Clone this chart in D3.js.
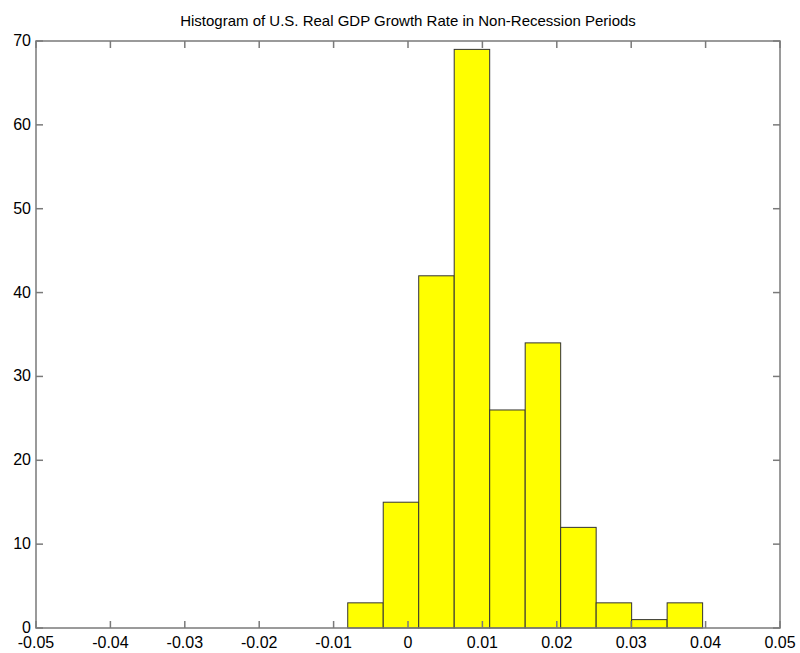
<!DOCTYPE html>
<html>
<head>
<meta charset="utf-8">
<script src="https://cdn.jsdelivr.net/npm/d3@7"></script>
<style>
  body { margin: 0; background: #fff; }
  text { font-family: Arial, "Liberation Sans", sans-serif; fill: #000; }
</style>
</head>
<body>
<div id="chart"></div>
<script>
const width = 800;
const height = 653;

// histogram data (bin edges from first edge + width, counts)
const binStart = -0.0081;
const binWidth = 0.00477;
const counts = [3, 15, 42, 69, 26, 34, 12, 3, 1, 3];
const xTicks = [-0.05, -0.04, -0.03, -0.02, -0.01, 0, 0.01, 0.02, 0.03, 0.04, 0.05];
const yTicks = [0, 10, 20, 30, 40, 50, 60, 70];
const title = "Histogram of U.S. Real GDP Growth Rate in Non-Recession Periods";

const margin = {top: 41, right: 20, bottom: 25, left: 36};
const x = d3.scaleLinear().domain([-0.05, 0.05]).range([margin.left, width - margin.right]);
const y = d3.scaleLinear().domain([0, 70]).range([height - margin.bottom, margin.top]);

const svg = d3.select("#chart").append("svg")
    .attr("width", width)
    .attr("height", height);

const bins = counts.map((c, i) => ({x0: binStart + i * binWidth, x1: binStart + (i + 1) * binWidth, n: c}));

svg.selectAll(".bar")
    .data(bins)
    .enter()
    .append("rect")
    .attr("class", "bar")
    .attr("x", d => x(d.x0))
    .attr("width", d => x(d.x1) - x(d.x0))
    .attr("y", d => y(d.n))
    .attr("height", d => y(0) - y(d.n))
    .attr("fill", "#ffff00")
    .attr("stroke", "#333")
    .attr("stroke-width", 1);

const axisColor = "#7a7a7a";
const tickLen = 7;

// box
svg.append("rect")
    .attr("x", x(-0.05))
    .attr("y", y(70))
    .attr("width", x(0.05) - x(-0.05))
    .attr("height", y(0) - y(70))
    .attr("fill", "none")
    .attr("stroke", axisColor)
    .attr("stroke-width", 1.5);

// ticks, inward on all four sides
const tickG = svg.append("g").attr("stroke", axisColor).attr("stroke-width", 1.5);
xTicks.forEach(t => {
    tickG.append("line").attr("x1", x(t)).attr("x2", x(t)).attr("y1", y(0)).attr("y2", y(0) - tickLen);
    tickG.append("line").attr("x1", x(t)).attr("x2", x(t)).attr("y1", y(70)).attr("y2", y(70) + tickLen);
});
yTicks.forEach(t => {
    tickG.append("line").attr("x1", x(-0.05)).attr("x2", x(-0.05) + tickLen).attr("y1", y(t)).attr("y2", y(t));
    tickG.append("line").attr("x1", x(0.05)).attr("x2", x(0.05) - tickLen).attr("y1", y(t)).attr("y2", y(t));
});

// plain hyphen for negatives, like the original
const fmt = d => d === 0 ? "0" : d3.format(".2f")(d).replace("\u2212", "-");

svg.selectAll(".xlab")
    .data(xTicks)
    .enter()
    .append("text")
    .attr("x", d => x(d))
    .attr("y", height - margin.bottom + 20)
    .attr("text-anchor", "middle")
    .style("font-size", "16px")
    .text(fmt);

svg.selectAll(".ylab")
    .data(yTicks)
    .enter()
    .append("text")
    .attr("x", x(-0.05) - 5)
    .attr("y", d => y(d) + 5)
    .attr("text-anchor", "end")
    .style("font-size", "16px")
    .text(d => d);

svg.append("text")
    .attr("x", (x(-0.05) + x(0.05)) / 2)
    .attr("y", 26)
    .attr("text-anchor", "middle")
    .style("font-size", "15px")
    .text(title);
</script>
</body>
</html>
